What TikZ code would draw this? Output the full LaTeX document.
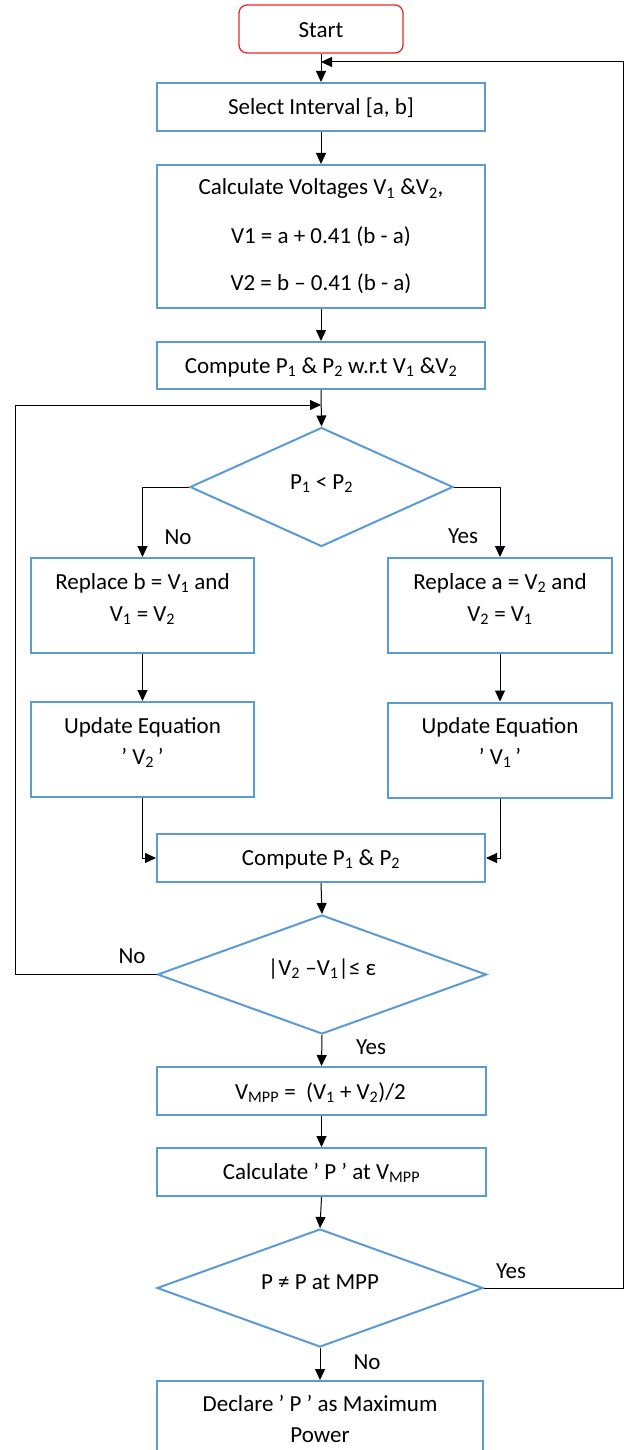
\documentclass[tikz,border=0pt]{standalone}
\usepackage{fontspec}
\setmainfont{Carlito}
\usetikzlibrary{arrows.meta,shapes.geometric}
\definecolor{boxblue}{RGB}{91,155,213}
\definecolor{startred}{RGB}{232,40,40}
\newcommand{\tck}{\symbol{39}}
\newcommand{\subs}[1]{\textsubscript{#1}}
\begin{document}
\begin{tikzpicture}[x=1pt,y=-1pt,
  box/.style={draw=boxblue, line width=2pt, rectangle, inner sep=0pt},
  startbox/.style={draw=startred, line width=1.3pt, rectangle, rounded corners=8pt, inner sep=0pt},
  decision/.style={draw=boxblue, line width=2pt, diamond, aspect=2.2, inner sep=0pt},
  txt/.style={anchor=base, inner sep=0pt, font=\fontsize{23}{28}\selectfont},
  flow/.style={draw=black, line width=1pt, -{Triangle[length=11pt,width=10pt]}},
  plain/.style={draw=black, line width=1pt}]
\useasboundingbox (0,0) rectangle (627,1450);
\clip (0,0) rectangle (627,1450);

% ---- boxes -------------------------------------------------------------
\node[startbox, minimum width=164pt, minimum height=48pt] (start) at (321,29) {};
\node[box, minimum width=328pt, minimum height=48pt] (sel) at (321,107) {};
\node[box, minimum width=328pt, minimum height=143pt] (calc) at (321,236.5) {};
\node[box, minimum width=328pt, minimum height=47pt] (comp1) at (321,365.5) {};
\node[decision, minimum width=263pt, minimum height=119pt] (d1) at (321.5,487) {};
\node[box, minimum width=223pt, minimum height=95pt] (rb) at (142.5,605.5) {};
\node[box, minimum width=224pt, minimum height=95pt] (ra) at (500,605.5) {};
\node[box, minimum width=223pt, minimum height=95pt] (ub) at (142.5,749.5) {};
\node[box, minimum width=224pt, minimum height=95pt] (ua) at (500,750) {};
\node[box, minimum width=328pt, minimum height=48pt] (comp2) at (321,858) {};
\node[decision, minimum width=329pt, minimum height=119pt] (d2) at (322,974.5) {};
\node[box, minimum width=329pt, minimum height=48pt] (vmpp) at (321.5,1091) {};
\node[box, minimum width=329pt, minimum height=48pt] (calcp) at (321.5,1172) {};
\node[decision, minimum width=326pt, minimum height=118pt] (d3) at (320,1288) {};
\node[box, minimum width=326pt, minimum height=82pt] (decl) at (320,1422) {};

% ---- texts -------------------------------------------------------------
\node[txt] (tstart) at (321,38) {Start};
\node[txt] (tsel) at (321,115) {Select Interval [a, b]};
\node[txt] (tcalc1) at (321,195) {Calculate Voltages V\subs{1} \&V\subs{2},};
\node[txt] (tcalc2) at (321,243) {V1 = a + 0.41 (b - a)};
\node[txt] (tcalc3) at (321,290) {V2 = b – 0.41 (b - a)};
\node[txt] (tcomp1) at (321,373) {Compute P\subs{1} \& P\subs{2} w.r.t V\subs{1} \&V\subs{2}};
\node[txt] (td1) at (321.5,489) {P\subs{1} < P\subs{2}};
\node[txt] (tno1) at (178,544) {No};
\node[txt] (tyes1) at (463,543) {Yes};
\node[txt] (trb1) at (142.5,589) {Replace b = V\subs{1} and};
\node[txt] (trb2) at (142.5,621) {V\subs{1} = V\subs{2}};
\node[txt] (tra1) at (500,589) {Replace a = V\subs{2} and};
\node[txt] (tra2) at (500,621) {V\subs{2} = V\subs{1}};
\node[txt] (tub1) at (142.5,733) {Update Equation};
\node[txt] (tub2) at (142.5,764) {\tck\ V\subs{2}\,\tck};
\node[txt] (tua1) at (500,733) {Update Equation};
\node[txt] (tua2) at (500,764) {\tck\ V\subs{1}\,\tck};
\node[txt] (tcomp2) at (321,865) {Compute P\subs{1} \& P\subs{2}};
\node[txt] (td2) at (322,975) {|V\subs{2} –V\subs{1}|≤ ε};
\node[txt] (tno2) at (132,963) {No};
\node[txt] (tyes2) at (371,1054) {Yes};
\node[txt] (tvmpp) at (320.5,1099) {V\subs{MPP} =\ \ (V\subs{1} + V\subs{2})/2};
\node[txt] (tcalcp) at (321.5,1179) {Calculate \tck\ P \tck\ at V\subs{MPP}};
\node[txt] (td3) at (320,1289) {P ≠ P at MPP};
\node[txt] (tyes3) at (511,1278) {Yes};
\node[txt] (tno3) at (367,1369) {No};
\node[txt] (tdecl1) at (320,1411) {Declare \tck\ P \tck\ as Maximum};
\node[txt] (tdecl2) at (320,1442) {Power};

% ---- bend points -------------------------------------------------------
\coordinate (jtop) at (321,62);
\coordinate (jloop) at (321,405);
\coordinate (lbend) at (15,974.5);
\coordinate (rbend) at (623,1288);

% ---- connectors --------------------------------------------------------
\draw[flow] (start.south) -- (sel.north);
\draw[flow] (sel.south) -- (calc.north);
\draw[flow] (calc.south) -- (comp1.north);
\draw[flow] (comp1.south) -- (d1.north);
\draw[flow] (d1.west) -| (rb.north);
\draw[flow] (d1.east) -| (ra.north);
\draw[flow] (rb.south) -- (ub.north);
\draw[flow] (ra.south) -- (ua.north);
\draw[flow] (ub.south) |- (comp2.west);
\draw[flow] (ua.south) |- (comp2.east);
\draw[flow] (comp2.south) -- (d2.north);
\draw[flow] (d2.west) -- (lbend) |- (jloop);
\draw[flow] (d2.south) -- (vmpp.north);
\draw[flow] (vmpp.south) -- (calcp.north);
\draw[flow] (calcp.south) -- (d3.north);
\draw[flow] (d3.south) -- (decl.north);
\draw[flow] (d3.east) -- (rbend) |- (jtop);
\end{tikzpicture}
\end{document}
